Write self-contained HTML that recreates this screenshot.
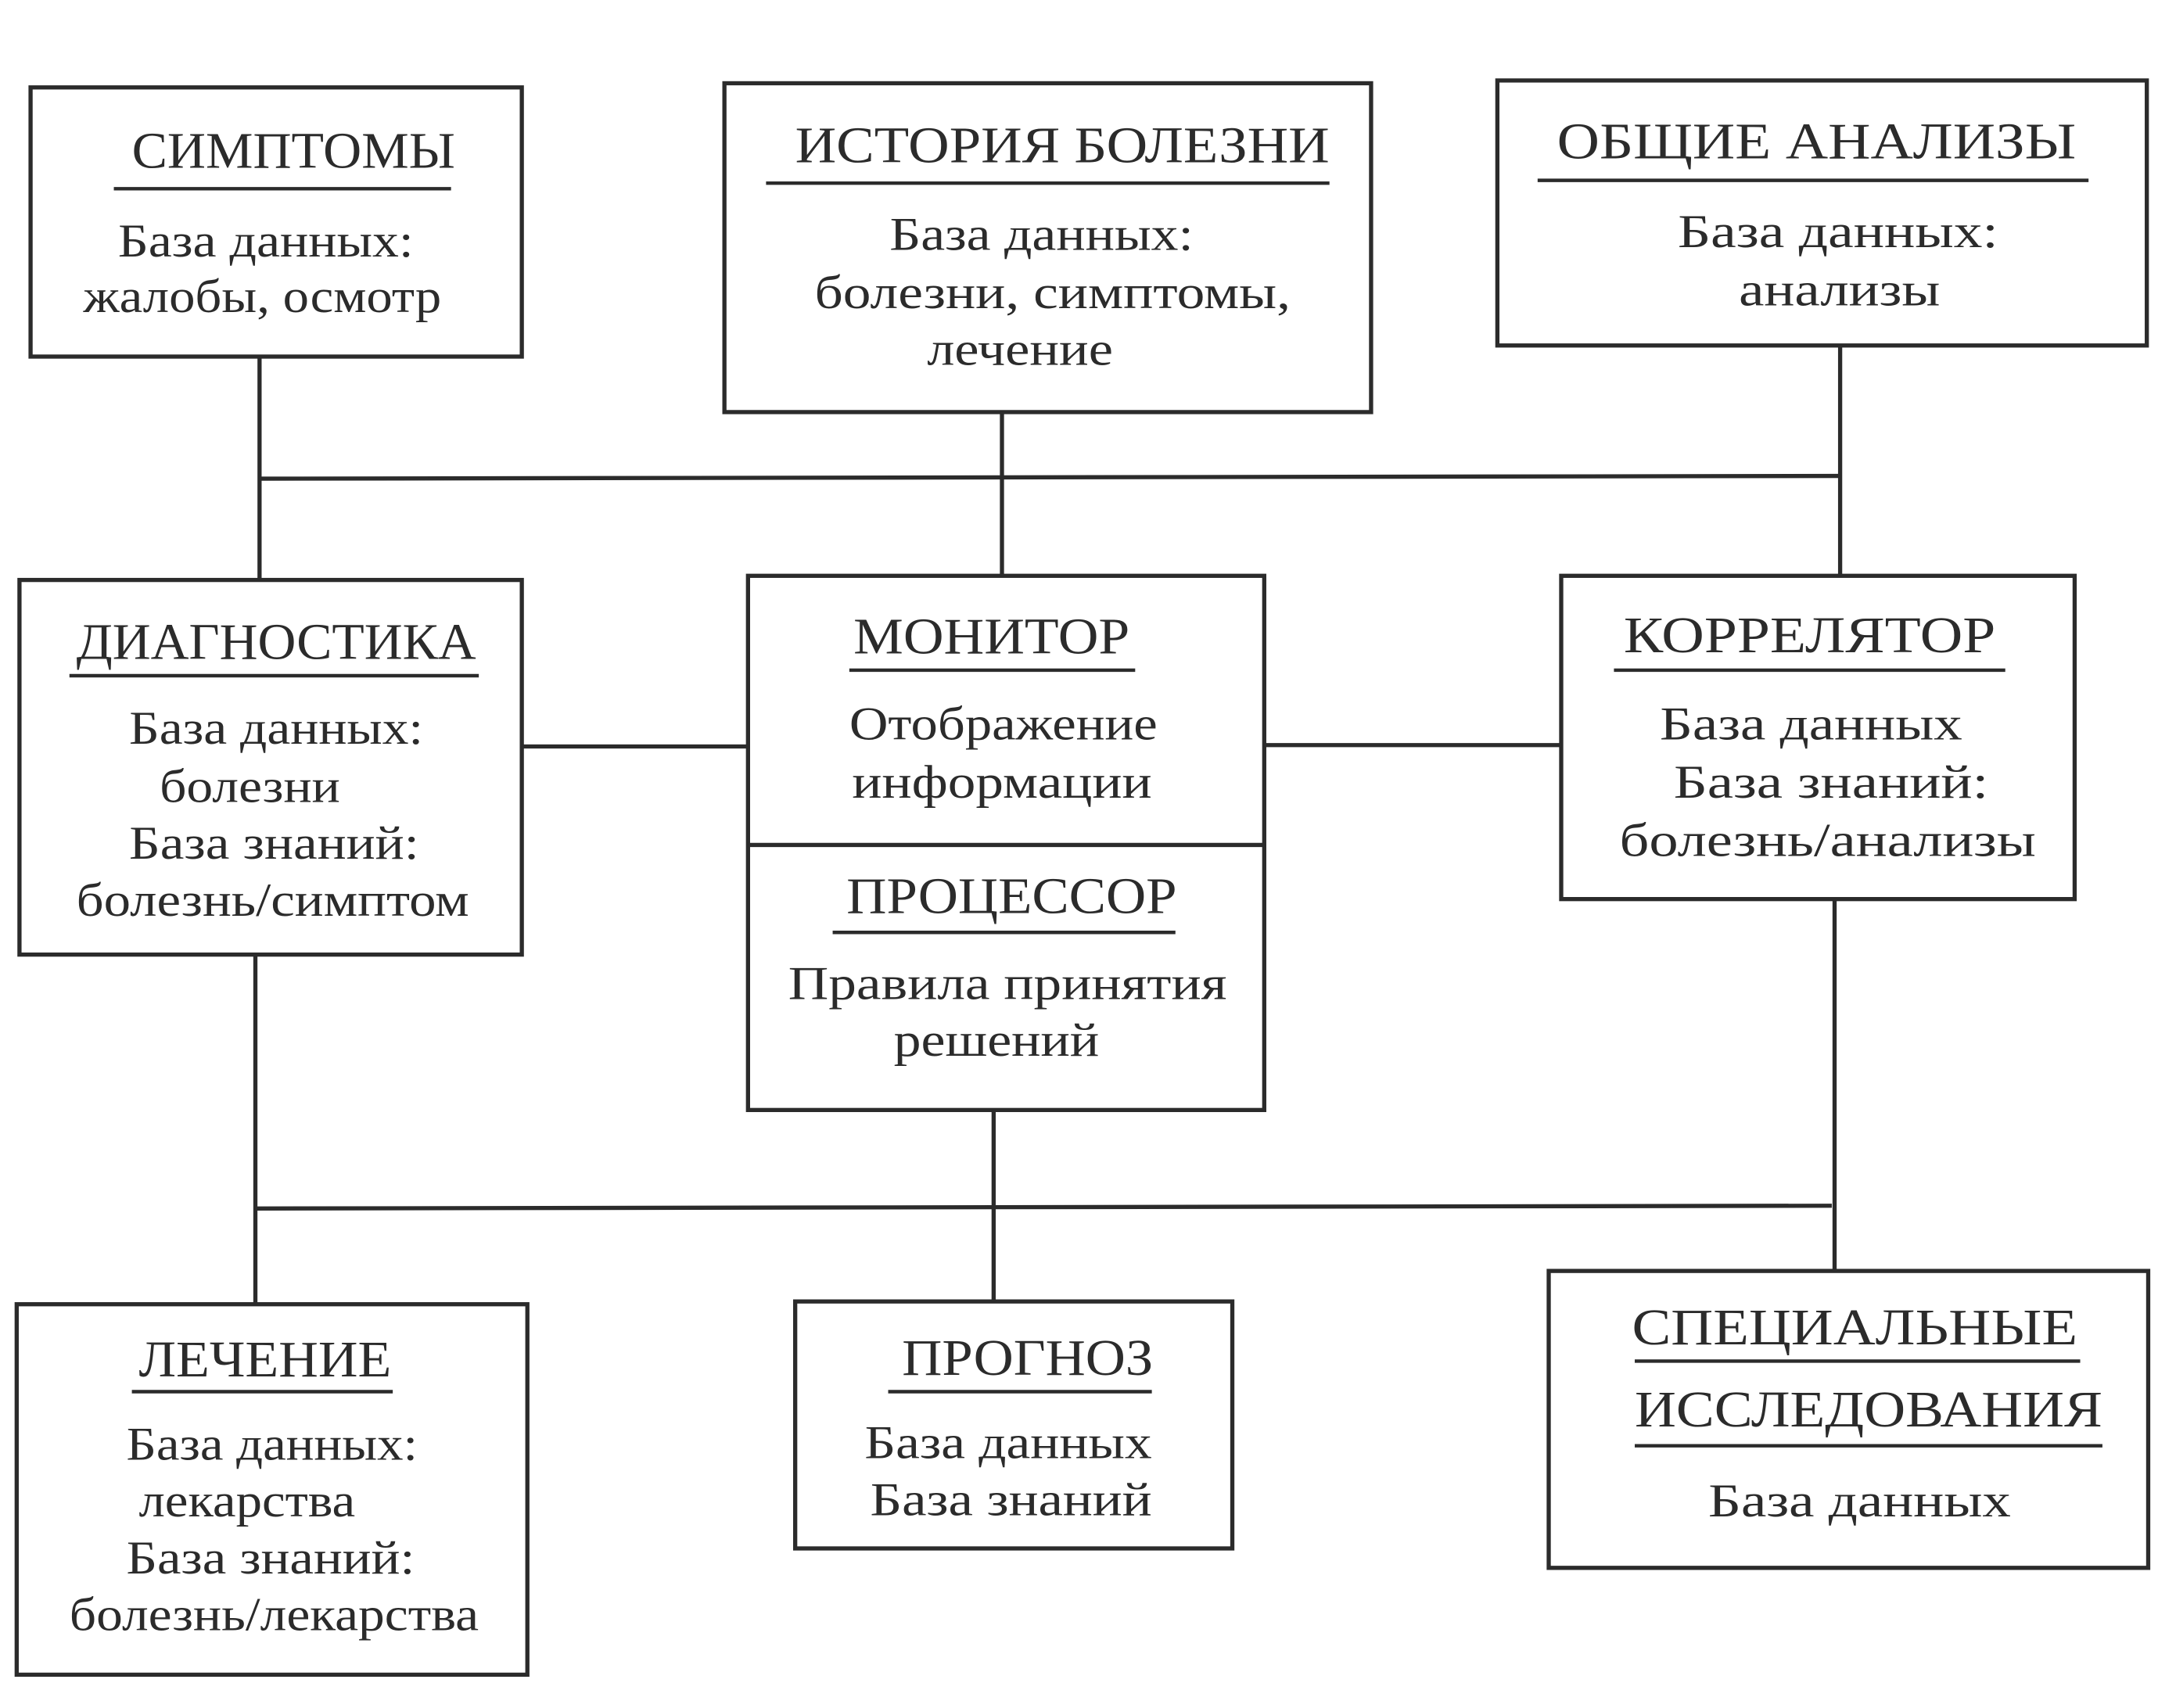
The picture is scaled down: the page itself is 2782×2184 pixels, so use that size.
<!DOCTYPE html>
<html><head><meta charset="utf-8">
<style>
html,body{margin:0;padding:0;background:#fff;}
svg{display:block;}
text{font-family:"Liberation Serif",serif;fill:#2b2b2b;}
.t{font-size:37px;}
.b{font-size:34px;}
</style></head>
<body>
<svg width="2782" height="2184" viewBox="0 0 1568 1231" xmlns="http://www.w3.org/2000/svg">
<rect width="1568" height="1231" fill="#fff"/>
<g stroke="#2b2b2b" stroke-width="3" fill="none">
<rect x="22" y="63" width="354" height="194"/>
<rect x="522" y="60" width="466" height="237"/>
<rect x="1079" y="58" width="468" height="191"/>
<rect x="14" y="418" width="362" height="270"/>
<rect x="539" y="415" width="372" height="385"/>
<line x1="539" y1="609" x2="911" y2="609"/>
<rect x="1125" y="415" width="370" height="233"/>
<rect x="12" y="940" width="368" height="267"/>
<rect x="573" y="938" width="315" height="178"/>
<rect x="1116" y="916" width="432" height="214"/>
<line x1="187" y1="345" x2="1326" y2="343"/>
<line x1="187" y1="257" x2="187" y2="418"/>
<line x1="722" y1="297" x2="722" y2="415"/>
<line x1="1326" y1="249" x2="1326" y2="415"/>
<line x1="376" y1="538" x2="539" y2="538"/>
<line x1="911" y1="537" x2="1125" y2="537"/>
<line x1="184" y1="871" x2="1320" y2="869"/>
<line x1="184" y1="688" x2="184" y2="940"/>
<line x1="716" y1="800" x2="716" y2="938"/>
<line x1="1322" y1="648" x2="1322" y2="916"/>
</g>
<g stroke="#2b2b2b" stroke-width="2.5">
<line x1="82" y1="136" x2="325" y2="136"/>
<line x1="552" y1="132" x2="958" y2="132"/>
<line x1="1108" y1="130" x2="1505" y2="130"/>
<line x1="50" y1="487" x2="345" y2="487"/>
<line x1="612" y1="483" x2="818" y2="483"/>
<line x1="600" y1="672" x2="847" y2="672"/>
<line x1="1163" y1="483" x2="1445" y2="483"/>
<line x1="95" y1="1003" x2="283" y2="1003"/>
<line x1="640" y1="1003" x2="830" y2="1003"/>
<line x1="1178" y1="1042" x2="1515" y2="1042"/>
<line x1="1178" y1="981" x2="1499" y2="981"/>
</g>
<text class="t" x="95" y="121" textLength="233" lengthAdjust="spacingAndGlyphs">СИМПТОМЫ</text>
<text class="t" x="573" y="117" textLength="385" lengthAdjust="spacingAndGlyphs">ИСТОРИЯ БОЛЕЗНИ</text>
<text class="t" x="1122" y="114" textLength="374" lengthAdjust="spacingAndGlyphs">ОБЩИЕ АНАЛИЗЫ</text>
<text class="t" x="55" y="475" textLength="288" lengthAdjust="spacingAndGlyphs">ДИАГНОСТИКА</text>
<text class="t" x="615" y="471" textLength="199" lengthAdjust="spacingAndGlyphs">МОНИТОР</text>
<text class="t" x="610" y="658" textLength="238" lengthAdjust="spacingAndGlyphs">ПРОЦЕССОР</text>
<text class="t" x="1170" y="470" textLength="268" lengthAdjust="spacingAndGlyphs">КОРРЕЛЯТОР</text>
<text class="t" x="100" y="992" textLength="182" lengthAdjust="spacingAndGlyphs">ЛЕЧЕНИЕ</text>
<text class="t" x="650" y="991" textLength="181" lengthAdjust="spacingAndGlyphs">ПРОГНОЗ</text>
<text class="t" x="1176" y="969" textLength="321" lengthAdjust="spacingAndGlyphs">СПЕЦИАЛЬНЫЕ</text>
<text class="t" x="1178" y="1028" textLength="337" lengthAdjust="spacingAndGlyphs">ИССЛЕДОВАНИЯ</text>
<text class="b" x="85" y="185" textLength="213" lengthAdjust="spacingAndGlyphs">База данных:</text>
<text class="b" x="60" y="225" textLength="258" lengthAdjust="spacingAndGlyphs">жалобы, осмотр</text>
<text class="b" x="641" y="180" textLength="219" lengthAdjust="spacingAndGlyphs">База данных:</text>
<text class="b" x="587" y="222" textLength="343" lengthAdjust="spacingAndGlyphs">болезни, симптомы,</text>
<text class="b" x="668" y="263" textLength="134" lengthAdjust="spacingAndGlyphs">лечение</text>
<text class="b" x="1209" y="178" textLength="231" lengthAdjust="spacingAndGlyphs">База данных:</text>
<text class="b" x="1253" y="220" textLength="145" lengthAdjust="spacingAndGlyphs">анализы</text>
<text class="b" x="93" y="536" textLength="212" lengthAdjust="spacingAndGlyphs">База данных:</text>
<text class="b" x="115" y="578" textLength="130" lengthAdjust="spacingAndGlyphs">болезни</text>
<text class="b" x="93" y="619" textLength="209" lengthAdjust="spacingAndGlyphs">База знаний:</text>
<text class="b" x="55" y="660" textLength="283" lengthAdjust="spacingAndGlyphs">болезнь/симптом</text>
<text class="b" x="612" y="533" textLength="222" lengthAdjust="spacingAndGlyphs">Отображение</text>
<text class="b" x="614" y="575" textLength="216" lengthAdjust="spacingAndGlyphs">информации</text>
<text class="b" x="568" y="720" textLength="316" lengthAdjust="spacingAndGlyphs">Правила принятия</text>
<text class="b" x="644" y="761" textLength="148" lengthAdjust="spacingAndGlyphs">решений</text>
<text class="b" x="1196" y="533" textLength="218" lengthAdjust="spacingAndGlyphs">База данных</text>
<text class="b" x="1206" y="575" textLength="227" lengthAdjust="spacingAndGlyphs">База знаний:</text>
<text class="b" x="1167" y="617" textLength="300" lengthAdjust="spacingAndGlyphs">болезнь/анализы</text>
<text class="b" x="91" y="1052" textLength="210" lengthAdjust="spacingAndGlyphs">База данных:</text>
<text class="b" x="100" y="1093" textLength="156" lengthAdjust="spacingAndGlyphs">лекарства</text>
<text class="b" x="91" y="1134" textLength="208" lengthAdjust="spacingAndGlyphs">База знаний:</text>
<text class="b" x="50" y="1175" textLength="295" lengthAdjust="spacingAndGlyphs">болезнь/лекарства</text>
<text class="b" x="623" y="1051" textLength="207" lengthAdjust="spacingAndGlyphs">База данных</text>
<text class="b" x="627" y="1092" textLength="203" lengthAdjust="spacingAndGlyphs">База знаний</text>
<text class="b" x="1231" y="1093" textLength="218" lengthAdjust="spacingAndGlyphs">База данных</text>
</svg>
</body></html>
